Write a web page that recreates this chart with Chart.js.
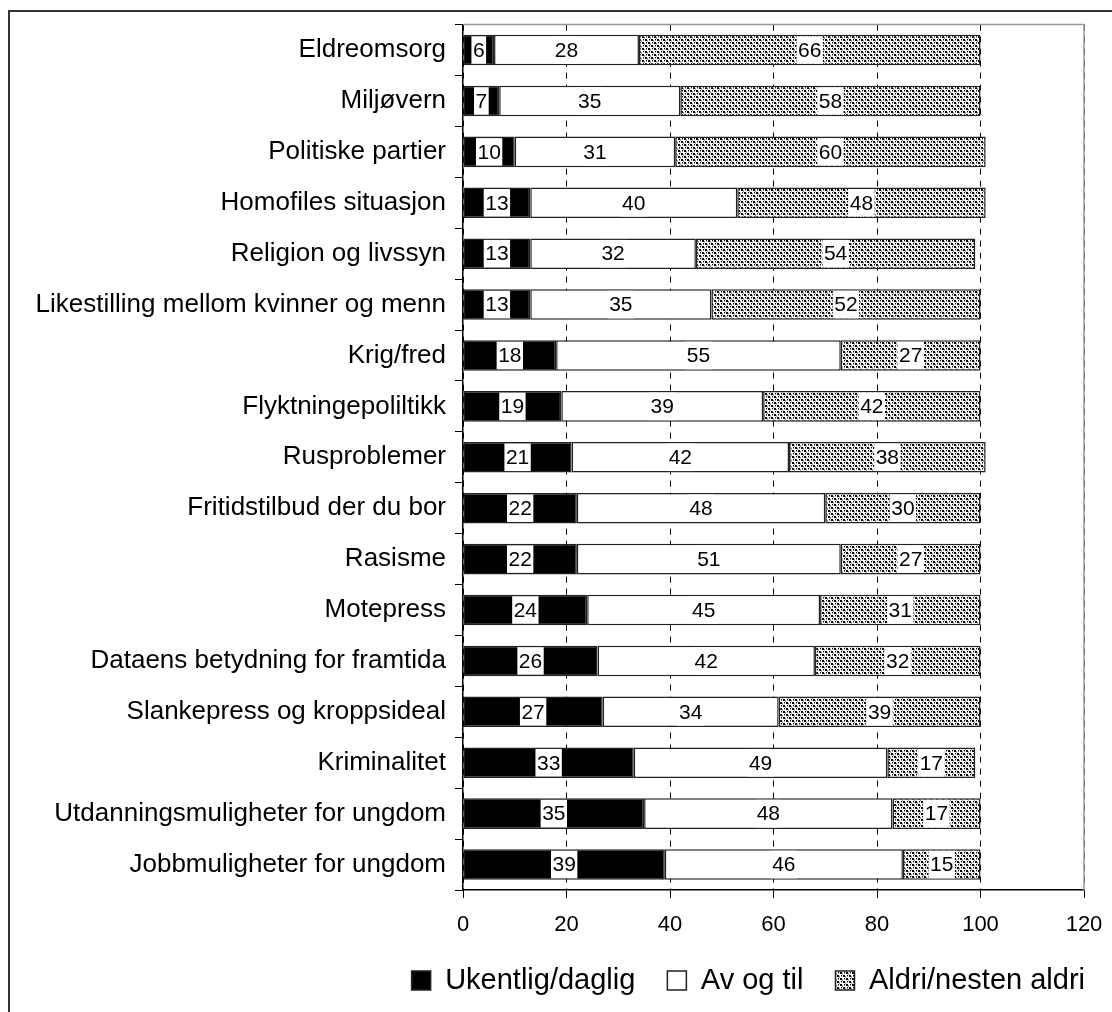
<!DOCTYPE html>
<html>
<head>
<meta charset="utf-8">
<script src="https://cdn.jsdelivr.net/npm/chart.js@4/dist/chart.umd.min.js"></script>
<style>
    html, body { margin: 0; padding: 0; background: #fff; overflow: hidden; }
    #wrap { width: 1112px; height: 1012px; position: relative; }
</style>
</head>
<body>
<div id="wrap"><canvas id="chart" width="1112" height="1012"></canvas></div>
<script>
// Data
const categories = [
    "Eldreomsorg",
    "Miljøvern",
    "Politiske partier",
    "Homofiles situasjon",
    "Religion og livssyn",
    "Likestilling mellom kvinner og menn",
    "Krig/fred",
    "Flyktningepoliltikk",
    "Rusproblemer",
    "Fritidstilbud der du bor",
    "Rasisme",
    "Motepress",
    "Dataens betydning for framtida",
    "Slankepress og kroppsideal",
    "Kriminalitet",
    "Utdanningsmuligheter for ungdom",
    "Jobbmuligheter for ungdom",
];
const weekly = [6, 7, 10, 13, 13, 13, 18, 19, 21, 22, 22, 24, 26, 27, 33, 35, 39];
const sometimes = [28, 35, 31, 40, 32, 35, 55, 39, 42, 48, 51, 45, 42, 34, 49, 48, 46];
const never = [66, 58, 60, 48, 54, 52, 27, 42, 38, 30, 27, 31, 32, 39, 17, 17, 15];
const seriesNames = ["Ukentlig/daglig", "Av og til", "Aldri/nesten aldri"];
const xTicks = [0, 20, 40, 60, 80, 100, 120];

const FONT = "Arial, 'Liberation Sans', sans-serif";
const LEGEND_PAD = 32;

// dotted fill for the last series
function dotPattern(ctx) {
    const c = document.createElement("canvas");
    c.width = 6;
    c.height = 6;
    const p = c.getContext("2d");
    p.fillStyle = "#fff";
    p.fillRect(0, 0, 6, 6);
    p.fillStyle = "#999";
    [[2, 1], [5, 4], [1, 4], [4, 1], [2, 2], [5, 5]].forEach(([x, y]) => p.fillRect(x, y, 1, 1));
    p.fillStyle = "#000";
    p.fillRect(0, 0, 2, 2);
    p.fillRect(3, 3, 2, 2);
    p.fillRect(4, 0, 1, 1);
    p.fillRect(1, 3, 1, 1);
    return ctx.createPattern(c, "repeat");
}

// outer frame + grey plot frame, legend nudged so its text ends under x=1085
const framePlugin = {
    id: "frame",
    afterLayout(chart) {
        chart.legend.right = 1085 + LEGEND_PAD;
    },
    beforeDraw(chart) {
        const ctx = chart.ctx;
        ctx.save();
        ctx.strokeStyle = "#333";
        ctx.lineWidth = 2;
        ctx.beginPath();
        ctx.moveTo(9, 1012);
        ctx.lineTo(9, 11);
        ctx.lineTo(1112, 11);
        ctx.stroke();
        ctx.restore();
    },
    afterDraw(chart) {
        const { ctx, chartArea: a } = chart;
        ctx.save();
        ctx.strokeStyle = "#999";
        ctx.lineWidth = 1.5;
        ctx.beginPath();
        ctx.moveTo(a.left, a.top);
        ctx.lineTo(a.right, a.top);
        ctx.lineTo(a.right, a.bottom);
        ctx.stroke();
        ctx.restore();
    },
};

// value labels on white boxes in the middle of each segment
const valueLabels = {
    id: "valueLabels",
    afterDatasetsDraw(chart) {
        const ctx = chart.ctx;
        ctx.save();
        ctx.font = "21px " + FONT;
        ctx.textAlign = "center";
        ctx.textBaseline = "middle";
        chart.data.datasets.forEach((ds, i) => {
            chart.getDatasetMeta(i).data.forEach((bar, j) => {
                const { x, y, base, height } = bar.getProps(["x", "y", "base", "height"], true);
                const cx = (x + base) / 2;
                const txt = String(ds.data[j]);
                const w = ctx.measureText(txt).width + 3;
                ctx.fillStyle = "#fff";
                ctx.fillRect(cx - w / 2, y - height / 2 + 1.5, w, height - 3);
                ctx.fillStyle = "#000";
                ctx.fillText(txt, cx, y + 1);
            });
        });
        ctx.restore();
    },
};

const ctx = document.getElementById("chart").getContext("2d");
const fills = ["#000", "#fff", dotPattern(ctx)];
const values = [weekly, sometimes, never];

new Chart(ctx, {
    type: "bar",
    data: {
        labels: categories,
        datasets: values.map((v, i) => ({
            label: seriesNames[i],
            data: v,
            backgroundColor: fills[i],
            borderColor: "#222",
            borderWidth: 1.5,
            borderSkipped: false,
            barPercentage: 0.6,
            categoryPercentage: 1,
        })),
    },
    options: {
        indexAxis: "y",
        responsive: false,
        animation: false,
        devicePixelRatio: 1,
        layout: {
            padding: { top: 21, right: 28, bottom: 7, left: 0 },
        },
        plugins: {
            legend: {
                display: true,
                position: "bottom",
                align: "end",
                labels: {
                    color: "#000",
                    boxWidth: 19,
                    boxHeight: 19,
                    padding: LEGEND_PAD,
                    font: { size: 29, family: FONT },
                },
            },
            tooltip: { enabled: false },
        },
        scales: {
            x: {
                stacked: true,
                min: 0,
                max: 120,
                afterBuildTicks: (scale) => {
                    scale.ticks = xTicks.map((v) => ({ value: v }));
                },
                afterFit: (scale) => {
                    scale.height = 44;
                    scale.paddingLeft = 0;
                    scale.paddingRight = 0;
                },
                grid: {
                    color: "#000",
                    lineWidth: 1,
                    tickLength: 8,
                    tickColor: "#000",
                },
                border: { display: true, color: "#000", width: 1.5, dash: [6, 6] },
                ticks: {
                    color: "#000",
                    padding: 14,
                    maxRotation: 0,
                    font: { size: 22, family: FONT },
                },
            },
            y: {
                stacked: true,
                afterFit: (scale) => {
                    scale.width = 463;
                },
                grid: {
                    offset: true,
                    drawOnChartArea: false,
                    tickLength: 8,
                    color: "#000",
                },
                border: { display: true, color: "#000", width: 1.5 },
                ticks: {
                    color: "#000",
                    padding: 9,
                    autoSkip: false,
                    font: { size: 26, family: FONT },
                },
            },
        },
    },
    plugins: [framePlugin, valueLabels],
});
</script>
</body>
</html>
